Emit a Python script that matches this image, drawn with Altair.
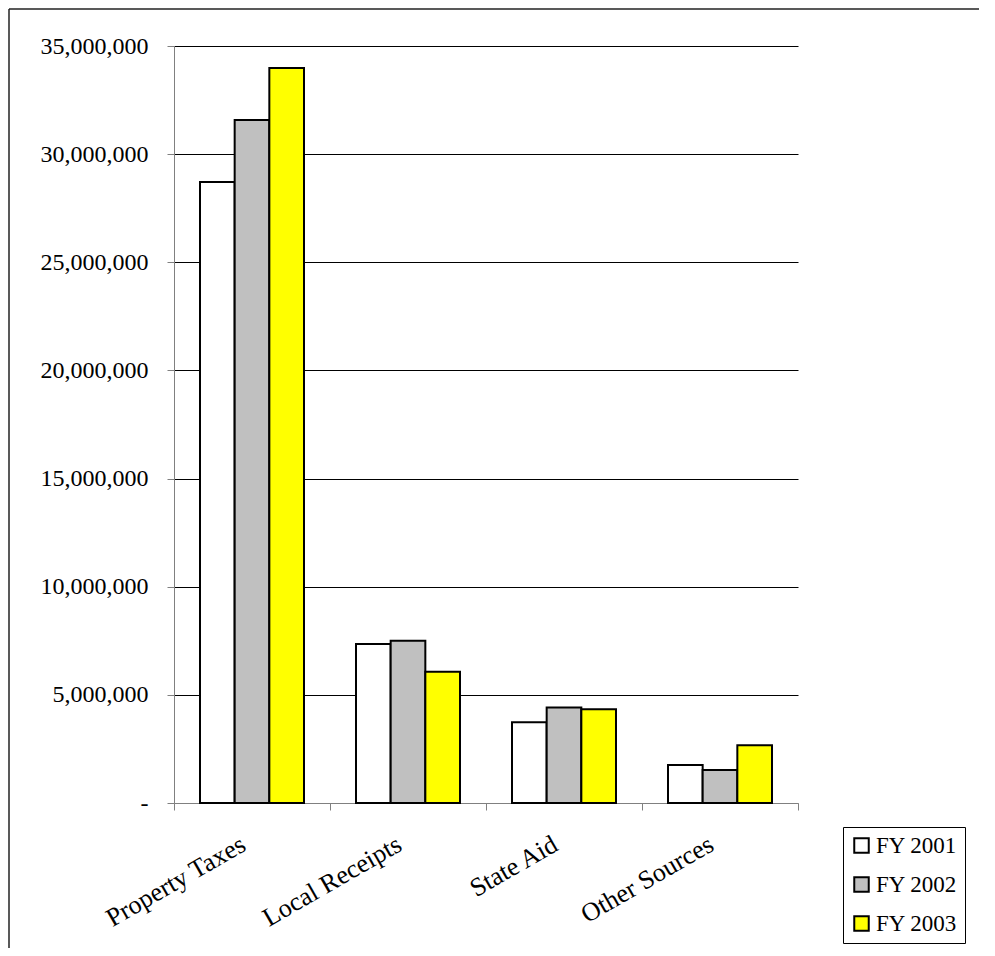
import altair as alt
import pandas as pd

categories = ["Property Taxes", "Local Receipts", "State Aid", "Other Sources"]
years = ["FY 2001", "FY 2002", "FY 2003"]
fy2001 = [28710000, 7350000, 3730000, 1760000]
fy2002 = [31580000, 7500000, 4420000, 1530000]
fy2003 = [33980000, 6070000, 4330000, 2670000]
colors = ["#FFFFFF", "#C0C0C0", "#FFFF00"]
y_ticks = [0, 5000000, 10000000, 15000000, 20000000, 25000000, 30000000, 35000000]

rows = []
for i, c in enumerate(categories):
    for y, vals in zip(years, [fy2001, fy2002, fy2003]):
        rows.append({"Source": c, "Year": y, "Amount": vals[i]})
df = pd.DataFrame(rows)

FONT = "Liberation Serif"

bars = alt.Chart(df).mark_bar(stroke="black", strokeWidth=2).encode(
    x=alt.X(
        "Source:N",
        sort=categories,
        scale=alt.Scale(paddingInner=0, paddingOuter=0),
        axis=alt.Axis(
            title=None,
            labelAngle=-30,
            labelAlign="right",
            labelBaseline="middle",
            labelPadding=32,
            labelOffset=-9,
            labelFont=FONT,
            labelFontSize=26,
            labelColor="black",
            tickBand="extent",
            tickSize=7,
            tickColor="#808080",
            domainColor="#808080",
            grid=False,
        ),
    ),
    xOffset=alt.XOffset(
        "Year:N",
        sort=years,
        scale=alt.Scale(paddingInner=0, paddingOuter=0.75),
    ),
    y=alt.Y(
        "Amount:Q",
        scale=alt.Scale(domain=[0, 35000000], nice=False),
        axis=alt.Axis(
            title=None,
            values=y_ticks,
            labelExpr="datum.value == 0 ? '-' : format(datum.value, ',')",
            labelFont=FONT,
            labelFontSize=24,
            labelColor="black",
            labelPadding=19,
            tickSize=7,
            tickColor="#808080",
            domainColor="#808080",
            grid=True,
            gridColor={"condition": {"test": "datum.value === 0", "value": "#808080"}, "value": "#000000"},
            gridWidth=1,
        ),
    ),
    color=alt.Color(
        "Year:N",
        sort=years,
        scale=alt.Scale(domain=years, range=colors),
        title=None,
        legend=alt.Legend(
            orient="none",
            legendX=669,
            legendY=781,
            symbolType="square",
            symbolSize=210,
            symbolStrokeColor="black",
            symbolStrokeWidth=2,
            symbolOpacity=1,
            labelFont=FONT,
            labelFontSize=23,
            labelColor="black",
            labelOffset=3,
            rowPadding=15,
            padding=7,
            strokeColor="black",
            fillColor="white",
        ),
    ),
)

frame_data = alt.Data(values=[{"k": 1}])
frame_left = alt.Chart(frame_data).mark_rule(color="#222222", strokeWidth=1.5).encode(
    x=alt.value(-165),
    x2=alt.value(-165),
    y=alt.value(-37),
    y2=alt.value(1000),
)
frame_top = alt.Chart(frame_data).mark_rule(color="#222222", strokeWidth=1.5).encode(
    x=alt.value(-165),
    x2=alt.value(1000),
    y=alt.value(-37),
    y2=alt.value(-37),
)

chart = alt.layer(frame_left, frame_top, bars).properties(
    width=624,
    height=757,
    autosize=alt.AutoSizeParams(type="none"),
    padding={"left": 166, "top": 38, "right": 181, "bottom": 145},
    background="white",
).configure_view(strokeWidth=0)

chart.save("out.html", embed_options={"renderer": "svg", "actions": False})
